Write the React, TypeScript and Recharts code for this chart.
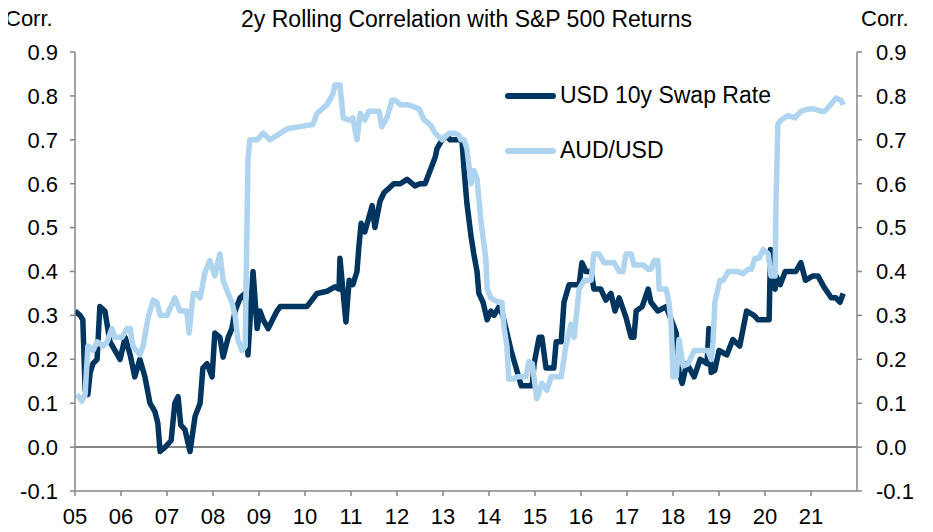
import { LineChart, Line, XAxis, YAxis, ReferenceLine } from "recharts";

// 2y rolling correlation with S&P 500 returns, [decimal year, corr]
const usdSwap10y: [number, number][] = [
  [2005.0, 0.31], [2005.11, 0.3], [2005.17, 0.29], [2005.22, 0.13], [2005.28, 0.12], [2005.33, 0.17],
  [2005.39, 0.19], [2005.48, 0.2], [2005.54, 0.32], [2005.65, 0.31], [2005.76, 0.24], [2005.87, 0.22],
  [2005.98, 0.2], [2006.09, 0.25], [2006.2, 0.21], [2006.3, 0.16], [2006.41, 0.2], [2006.52, 0.16],
  [2006.63, 0.1], [2006.74, 0.08], [2006.8, 0.055], [2006.85, -0.01], [2006.96, 0.0], [2007.09, 0.015],
  [2007.17, 0.1], [2007.24, 0.115], [2007.3, 0.05], [2007.39, 0.04], [2007.5, -0.01], [2007.61, 0.07],
  [2007.72, 0.1], [2007.78, 0.18], [2007.87, 0.19], [2007.98, 0.16], [2008.04, 0.26], [2008.15, 0.25],
  [2008.22, 0.205], [2008.33, 0.25], [2008.41, 0.27], [2008.48, 0.31], [2008.59, 0.34], [2008.7, 0.35],
  [2008.76, 0.21], [2008.87, 0.4], [2008.96, 0.27], [2009.02, 0.31], [2009.09, 0.29], [2009.2, 0.27],
  [2009.39, 0.31], [2009.46, 0.32], [2009.74, 0.32], [2010.04, 0.32], [2010.26, 0.35], [2010.48, 0.355],
  [2010.65, 0.365], [2010.74, 0.36], [2010.76, 0.43], [2010.83, 0.35], [2010.89, 0.285], [2010.96, 0.38],
  [2011.04, 0.37], [2011.13, 0.4], [2011.17, 0.455], [2011.22, 0.51], [2011.3, 0.49], [2011.46, 0.55],
  [2011.52, 0.5], [2011.63, 0.56], [2011.72, 0.58], [2011.83, 0.59], [2011.93, 0.6], [2012.07, 0.6],
  [2012.22, 0.61], [2012.39, 0.595], [2012.5, 0.6], [2012.61, 0.6], [2012.72, 0.63], [2012.83, 0.66],
  [2012.87, 0.68], [2012.98, 0.7], [2013.09, 0.71], [2013.15, 0.7], [2013.26, 0.7], [2013.35, 0.7],
  [2013.41, 0.7], [2013.46, 0.63], [2013.52, 0.555], [2013.61, 0.48], [2013.67, 0.44], [2013.74, 0.4],
  [2013.78, 0.35], [2013.87, 0.33], [2013.96, 0.29], [2014.04, 0.31], [2014.11, 0.3], [2014.22, 0.32],
  [2014.3, 0.3], [2014.39, 0.26], [2014.48, 0.22], [2014.59, 0.18], [2014.7, 0.14], [2014.83, 0.14],
  [2014.94, 0.14], [2014.98, 0.19], [2015.09, 0.25], [2015.15, 0.25], [2015.24, 0.18], [2015.3, 0.18],
  [2015.41, 0.18], [2015.46, 0.24], [2015.57, 0.24], [2015.63, 0.33], [2015.74, 0.37], [2015.85, 0.37],
  [2015.96, 0.37], [2016.02, 0.42], [2016.11, 0.4], [2016.22, 0.4], [2016.28, 0.36], [2016.43, 0.36],
  [2016.54, 0.335], [2016.65, 0.35], [2016.74, 0.31], [2016.83, 0.34], [2016.98, 0.295], [2017.09, 0.25],
  [2017.15, 0.25], [2017.2, 0.31], [2017.33, 0.32], [2017.46, 0.36], [2017.52, 0.33], [2017.67, 0.31],
  [2017.85, 0.32], [2018.0, 0.28], [2018.07, 0.26], [2018.13, 0.17], [2018.2, 0.145], [2018.3, 0.19],
  [2018.46, 0.16], [2018.59, 0.2], [2018.74, 0.19], [2018.78, 0.27], [2018.83, 0.17], [2018.91, 0.175],
  [2019.0, 0.22], [2019.17, 0.21], [2019.3, 0.245], [2019.45, 0.23], [2019.6, 0.31], [2019.76, 0.3],
  [2019.85, 0.29], [2020.0, 0.29], [2020.09, 0.29], [2020.12, 0.45], [2020.13, 0.37], [2020.22, 0.36],
  [2020.24, 0.39], [2020.33, 0.37], [2020.44, 0.4], [2020.57, 0.4], [2020.67, 0.4], [2020.78, 0.42],
  [2020.88, 0.38], [2021.04, 0.39], [2021.15, 0.39], [2021.28, 0.365], [2021.44, 0.34], [2021.54, 0.34],
  [2021.63, 0.33], [2021.7, 0.35],
];

const audUsd: [number, number][] = [
  [2005.04, 0.12], [2005.15, 0.105], [2005.22, 0.12], [2005.28, 0.23], [2005.39, 0.22], [2005.48, 0.24],
  [2005.61, 0.23], [2005.7, 0.24], [2005.8, 0.27], [2005.87, 0.25], [2006.02, 0.25], [2006.13, 0.27],
  [2006.2, 0.27], [2006.26, 0.23], [2006.41, 0.21], [2006.48, 0.23], [2006.59, 0.295], [2006.7, 0.335],
  [2006.78, 0.33], [2006.85, 0.3], [2007.0, 0.3], [2007.17, 0.34], [2007.28, 0.31], [2007.43, 0.31],
  [2007.48, 0.26], [2007.57, 0.35], [2007.65, 0.35], [2007.72, 0.34], [2007.83, 0.4], [2007.93, 0.425],
  [2008.04, 0.39], [2008.15, 0.44], [2008.22, 0.38], [2008.33, 0.35], [2008.41, 0.33], [2008.48, 0.3],
  [2008.54, 0.245], [2008.63, 0.22], [2008.7, 0.23], [2008.76, 0.655], [2008.8, 0.7], [2008.96, 0.7],
  [2009.09, 0.715], [2009.24, 0.7], [2009.39, 0.71], [2009.61, 0.725], [2009.89, 0.73], [2010.17, 0.735],
  [2010.26, 0.76], [2010.48, 0.78], [2010.61, 0.805], [2010.65, 0.825], [2010.76, 0.825], [2010.83, 0.75],
  [2010.96, 0.745], [2011.04, 0.75], [2011.13, 0.7], [2011.2, 0.76], [2011.3, 0.745], [2011.39, 0.765],
  [2011.61, 0.765], [2011.67, 0.73], [2011.78, 0.75], [2011.89, 0.79], [2011.96, 0.79], [2012.07, 0.78],
  [2012.22, 0.78], [2012.37, 0.775], [2012.48, 0.77], [2012.59, 0.745], [2012.72, 0.735], [2012.83, 0.715],
  [2012.98, 0.7], [2013.13, 0.715], [2013.26, 0.715], [2013.35, 0.71], [2013.39, 0.7], [2013.46, 0.7],
  [2013.52, 0.68], [2013.61, 0.6], [2013.67, 0.63], [2013.74, 0.61], [2013.83, 0.51], [2013.93, 0.43],
  [2013.96, 0.36], [2014.04, 0.34], [2014.11, 0.335], [2014.22, 0.33], [2014.28, 0.33], [2014.33, 0.27],
  [2014.39, 0.23], [2014.43, 0.155], [2014.54, 0.155], [2014.61, 0.16], [2014.7, 0.16], [2014.8, 0.16],
  [2014.87, 0.195], [2014.94, 0.19], [2015.04, 0.11], [2015.15, 0.145], [2015.26, 0.13], [2015.35, 0.16],
  [2015.46, 0.16], [2015.57, 0.16], [2015.67, 0.23], [2015.78, 0.28], [2015.85, 0.25], [2015.96, 0.36],
  [2016.07, 0.38], [2016.22, 0.38], [2016.28, 0.44], [2016.39, 0.44], [2016.5, 0.42], [2016.72, 0.42],
  [2016.83, 0.4], [2016.91, 0.4], [2016.98, 0.44], [2017.09, 0.44], [2017.15, 0.415], [2017.35, 0.415],
  [2017.46, 0.405], [2017.52, 0.405], [2017.59, 0.425], [2017.67, 0.425], [2017.7, 0.36], [2017.85, 0.36],
  [2017.91, 0.33], [2017.96, 0.28], [2018.0, 0.16], [2018.07, 0.16], [2018.13, 0.245], [2018.22, 0.185],
  [2018.33, 0.19], [2018.46, 0.22], [2018.61, 0.22], [2018.76, 0.22], [2018.83, 0.2], [2018.87, 0.24],
  [2018.91, 0.33], [2019.02, 0.38], [2019.09, 0.38], [2019.2, 0.4], [2019.35, 0.4], [2019.41, 0.4],
  [2019.52, 0.395], [2019.63, 0.405], [2019.7, 0.405], [2019.78, 0.43], [2019.87, 0.43], [2019.96, 0.45],
  [2020.07, 0.44], [2020.13, 0.39], [2020.22, 0.39], [2020.24, 0.56], [2020.28, 0.735], [2020.35, 0.745],
  [2020.5, 0.755], [2020.65, 0.75], [2020.78, 0.765], [2020.93, 0.77], [2021.09, 0.77], [2021.22, 0.765],
  [2021.3, 0.765], [2021.43, 0.78], [2021.54, 0.795], [2021.65, 0.79], [2021.7, 0.78],
];

const seriesNames = ["USD 10y Swap Rate", "AUD/USD"];
const yearTicks = [2005, 2006, 2007, 2008, 2009, 2010, 2011, 2012, 2013, 2014, 2015, 2016, 2017, 2018, 2019, 2020, 2021];
const corrTicks = [-0.1, 0, 0.1, 0.2, 0.3, 0.4, 0.5, 0.6, 0.7, 0.8, 0.9];

const usdData = usdSwap10y.map(([t, v]) => ({ t, v }));
const audData = audUsd.map(([t, v]) => ({ t, v }));

const DARK = "#00355f";
const LIGHT = "#aed4f0";
const AXIS = "#868686";
const FONT = "'Liberation Sans', Arial, sans-serif";

const tickStyle = { fill: "#000", fontSize: 22, fontFamily: FONT };

export default function App() {
  const colors = [DARK, LIGHT];
  return (
    <div style={{ position: "relative", width: 917, height: 524, fontFamily: FONT }}>
      <div style={{ position: "absolute", left: -3, top: 0, fontSize: 22, lineHeight: "22px" }}>Corr.</div>
      <div style={{ position: "absolute", left: 0, width: 917, top: 0, textAlign: "center", fontSize: 23, lineHeight: "22px" }}>
        2y Rolling Correlation with S&amp;P 500 Returns
      </div>
      <div style={{ position: "absolute", left: 853, top: 0, fontSize: 22, lineHeight: "22px" }}>Corr.</div>
      {/* legend sits inside the plot, top right */}
      <div style={{ position: "absolute", left: 497, top: 60, fontSize: 23, color: "#000", zIndex: 1 }}>
        {seriesNames.map((name, i) => (
          <div key={name} style={{ display: "flex", alignItems: "center", height: 55 }}>
            <span style={{ display: "inline-block", width: 51, height: 6, background: colors[i], borderRadius: 3, marginRight: 4 }} />
            <span>{name}</span>
          </div>
        ))}
      </div>
      <LineChart width={917} height={524} margin={{ top: 44, right: 0, bottom: 0, left: 0 }}>
        <XAxis
          dataKey="t"
          type="number"
          domain={[2005, 2022]}
          ticks={yearTicks}
          tickFormatter={(v: number) => String(v % 100).padStart(2, "0")}
          height={41}
          tickSize={5}
          tickMargin={12}
          tick={tickStyle}
          stroke={AXIS}
          strokeWidth={1.5}
          allowDataOverflow
        />
        <YAxis
          yAxisId="left"
          orientation="left"
          domain={[-0.1, 0.9]}
          ticks={corrTicks}
          tickFormatter={(v: number) => v.toFixed(1)}
          width={67}
          tickSize={5}
          tickMargin={12}
          tick={tickStyle}
          stroke={AXIS}
          strokeWidth={1.5}
          allowDataOverflow
        />
        <YAxis
          yAxisId="right"
          orientation="right"
          domain={[-0.1, 0.9]}
          ticks={corrTicks}
          tickFormatter={(v: number) => v.toFixed(1)}
          width={68}
          tickSize={5}
          tickMargin={14}
          tick={{ ...tickStyle, textAnchor: "start" }}
          stroke={AXIS}
          strokeWidth={1.5}
          allowDataOverflow
        />
        <ReferenceLine yAxisId="left" y={0} stroke={AXIS} strokeWidth={2} />
        <Line
          yAxisId="left"
          data={usdData}
          dataKey="v"
          name={seriesNames[0]}
          stroke={DARK}
          strokeWidth={5.5}
          strokeLinejoin="round"
          dot={false}
          isAnimationActive={false}
        />
        <Line
          yAxisId="right"
          data={audData}
          dataKey="v"
          name={seriesNames[1]}
          stroke={LIGHT}
          strokeWidth={5.5}
          strokeLinejoin="round"
          dot={false}
          isAnimationActive={false}
        />
      </LineChart>
    </div>
  );
}
